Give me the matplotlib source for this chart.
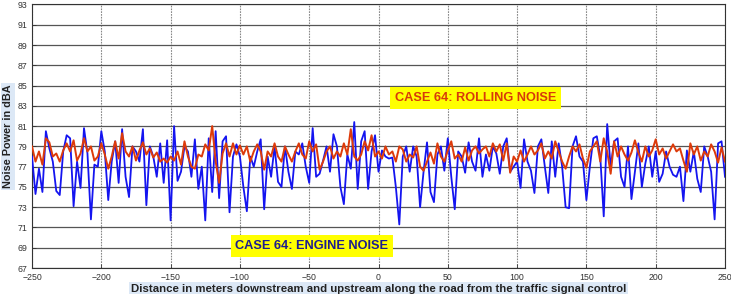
"""Engine vs rolling noise along the road (case 64)."""

import matplotlib
matplotlib.use("Agg")
import matplotlib.pyplot as plt
import numpy as np

# distance axis, one reading every 2.5 m
distance = np.linspace(-250, 250, 201)

engine_noise = [
    78.0, 74.3, 76.8, 74.5, 80.5, 78.8, 77.5, 74.6, 74.2, 78.5,
    80.1, 79.8, 73.1, 77.5, 74.9, 80.8, 78.3, 71.8, 77.2, 77.0,
    80.5, 78.5, 73.7, 77.5, 79.5, 75.4, 80.7, 76.0, 74.0, 79.0,
    78.5, 77.5, 80.7, 73.2, 79.0, 78.0, 76.0, 79.3, 75.4, 79.6,
    71.7, 81.0, 75.6, 76.5, 79.0, 78.5, 76.0, 79.7, 74.8, 77.0,
    71.7, 79.8, 74.5, 80.5, 73.9, 79.5, 80.0, 72.5, 78.0, 79.2,
    78.0, 75.0, 72.6, 78.0, 77.0, 78.5, 79.7, 72.8, 78.0, 76.0,
    79.0, 75.5, 75.0, 79.0, 76.5, 74.8, 78.5, 78.2, 79.3, 77.0,
    75.4, 80.8, 76.0, 76.3, 77.6, 79.0, 76.5, 80.2, 79.0, 75.0,
    73.3, 78.2, 76.8, 81.4, 74.8, 79.5, 80.5, 74.8, 78.5, 80.1,
    76.5, 78.6, 78.0, 77.8, 77.9, 75.0, 71.3, 78.0, 79.0, 76.5,
    79.0, 78.0, 73.0, 76.5, 79.4, 74.5, 73.5, 78.2, 79.0, 76.6,
    79.8, 76.0, 72.8, 78.5, 78.0, 76.4, 79.4, 77.5, 76.6, 79.8,
    76.0, 78.2, 76.6, 79.0, 78.3, 76.3, 79.0, 79.8, 76.5, 77.0,
    77.5, 74.9, 79.7, 77.5, 76.6, 74.4, 79.0, 79.7, 77.0, 74.4,
    79.5, 76.0, 79.3, 77.0, 73.0, 72.9, 79.0, 80.0, 78.0, 77.5,
    73.7, 77.0, 79.8, 80.0, 78.0, 72.1, 81.2, 77.0, 79.5, 79.8,
    76.0, 75.0, 79.0, 73.8, 76.5, 79.3, 75.0, 77.3, 79.0, 76.0,
    78.5, 75.5, 76.3, 78.5, 77.0, 76.2, 76.0, 77.0, 73.6, 78.6,
    76.5, 78.5, 75.8, 74.5, 79.0, 78.0, 76.5, 71.8, 79.3, 79.5,
    76.0,
]

rolling_noise = [
    79.0, 77.5, 78.5, 77.2, 79.8, 79.4, 78.0, 78.3, 77.5, 78.6,
    79.3, 78.5, 79.6, 77.6, 78.3, 79.8, 78.5, 79.0, 77.6, 78.0,
    79.3, 78.2, 76.8, 78.0, 79.5, 77.8, 80.3, 78.5, 78.0, 79.0,
    77.6, 78.6, 79.4, 78.2, 78.8, 77.9, 78.4, 77.5, 77.8, 77.4,
    78.0, 77.6, 78.5, 77.2, 79.5, 78.0, 77.0, 76.8, 78.2, 78.0,
    79.2, 78.6, 81.0, 77.5, 75.4, 78.3, 79.3, 78.0, 79.3, 78.2,
    79.1, 78.2, 79.0, 77.5, 78.5, 79.2, 78.5, 76.7, 78.5, 78.0,
    79.3, 78.0, 77.5, 79.0, 78.2, 77.5, 78.5, 79.3, 78.2, 77.8,
    79.5, 78.5, 79.2, 76.7, 77.5, 78.5, 79.0, 77.8, 78.5, 78.0,
    79.3, 78.2, 80.7, 78.0, 77.6, 78.2, 79.5, 78.6, 80.1, 78.0,
    78.5, 77.8, 79.0, 78.2, 78.5, 77.5, 79.0, 78.7, 77.5, 78.2,
    77.9, 79.0, 77.0, 76.6, 77.5, 78.4, 77.3, 79.3, 78.0, 77.5,
    78.6, 79.5, 77.8, 78.2, 77.5, 78.9, 77.6, 78.6, 79.0, 78.3,
    78.7, 79.0, 78.0, 79.3, 78.5, 79.2, 77.6, 79.3, 76.4, 78.0,
    77.5, 78.6, 77.5, 78.2, 79.0, 78.2, 78.6, 79.3, 77.8, 78.5,
    77.8, 79.5, 78.5, 77.5, 76.8, 78.0, 79.0, 78.5, 79.2, 77.8,
    76.9, 78.5, 79.0, 79.5, 77.5, 79.8, 78.5, 76.3, 79.5, 78.0,
    79.0, 78.2, 77.6, 78.4, 79.6, 78.4, 77.5, 79.0, 78.0, 78.6,
    79.7, 78.2, 78.8, 77.8, 78.5, 79.2, 78.5, 78.8, 77.6, 76.5,
    79.3, 78.2, 79.0, 77.6, 78.5, 78.0, 79.2, 78.5, 77.4, 78.9,
    77.5,
]

x_ticks = list(range(-250, 251, 50))
y_ticks = list(range(67, 94, 2))

plt.rcParams["font.family"] = ["Liberation Sans", "DejaVu Sans"]

fig = plt.figure(figsize=(7.31, 2.94), dpi=100)
ax = fig.add_axes([0.0438, 0.0884, 0.948, 0.8963])

ax.plot(distance, engine_noise, color="#1414f0", lw=1.3, zorder=3)
ax.plot(distance, rolling_noise, color="#dd3a0a", lw=1.4, zorder=4)

ax.set_xlim(-250, 250)
ax.set_ylim(67, 93)
ax.set_xticks(x_ticks)
ax.set_yticks(y_ticks)
ax.tick_params(labelsize=6.3, colors="#333333", direction="in", length=3, width=0.6)

ax.grid(axis="y", color="#555555", lw=0.9, ls="-")
ax.grid(axis="x", color="#888888", lw=0.8, ls=(0, (1.5, 1)))
ax.set_axisbelow(True)
for s in ax.spines.values():
    s.set_color("#333333")
    s.set_linewidth(0.8)

ax.set_xlabel("Distance in meters downstream and upstream along the road from the traffic signal control",
              fontsize=8.2, fontweight="bold", color="#222222", labelpad=1.5,
              bbox=dict(facecolor="#dce8f6", edgecolor="none", pad=1.2))
ax.set_ylabel("Noise Power in dBA", fontsize=7.8, fontweight="bold", color="#222222", labelpad=3,
              bbox=dict(facecolor="#dce8f6", edgecolor="none", pad=1.2))

ax.text(70, 83.8, "CASE 64: ROLLING NOISE", fontsize=9.2, fontweight="bold", color="#d83a0a",
        ha="center", va="center", zorder=5,
        bbox=dict(facecolor="#ffff00", edgecolor="none", pad=3.5))
ax.text(-48, 69.2, "CASE 64: ENGINE NOISE", fontsize=9.2, fontweight="bold", color="#1c1c90",
        ha="center", va="center", zorder=5,
        bbox=dict(facecolor="#ffff00", edgecolor="none", pad=3.5))

fig.savefig("out.png", dpi=100)
